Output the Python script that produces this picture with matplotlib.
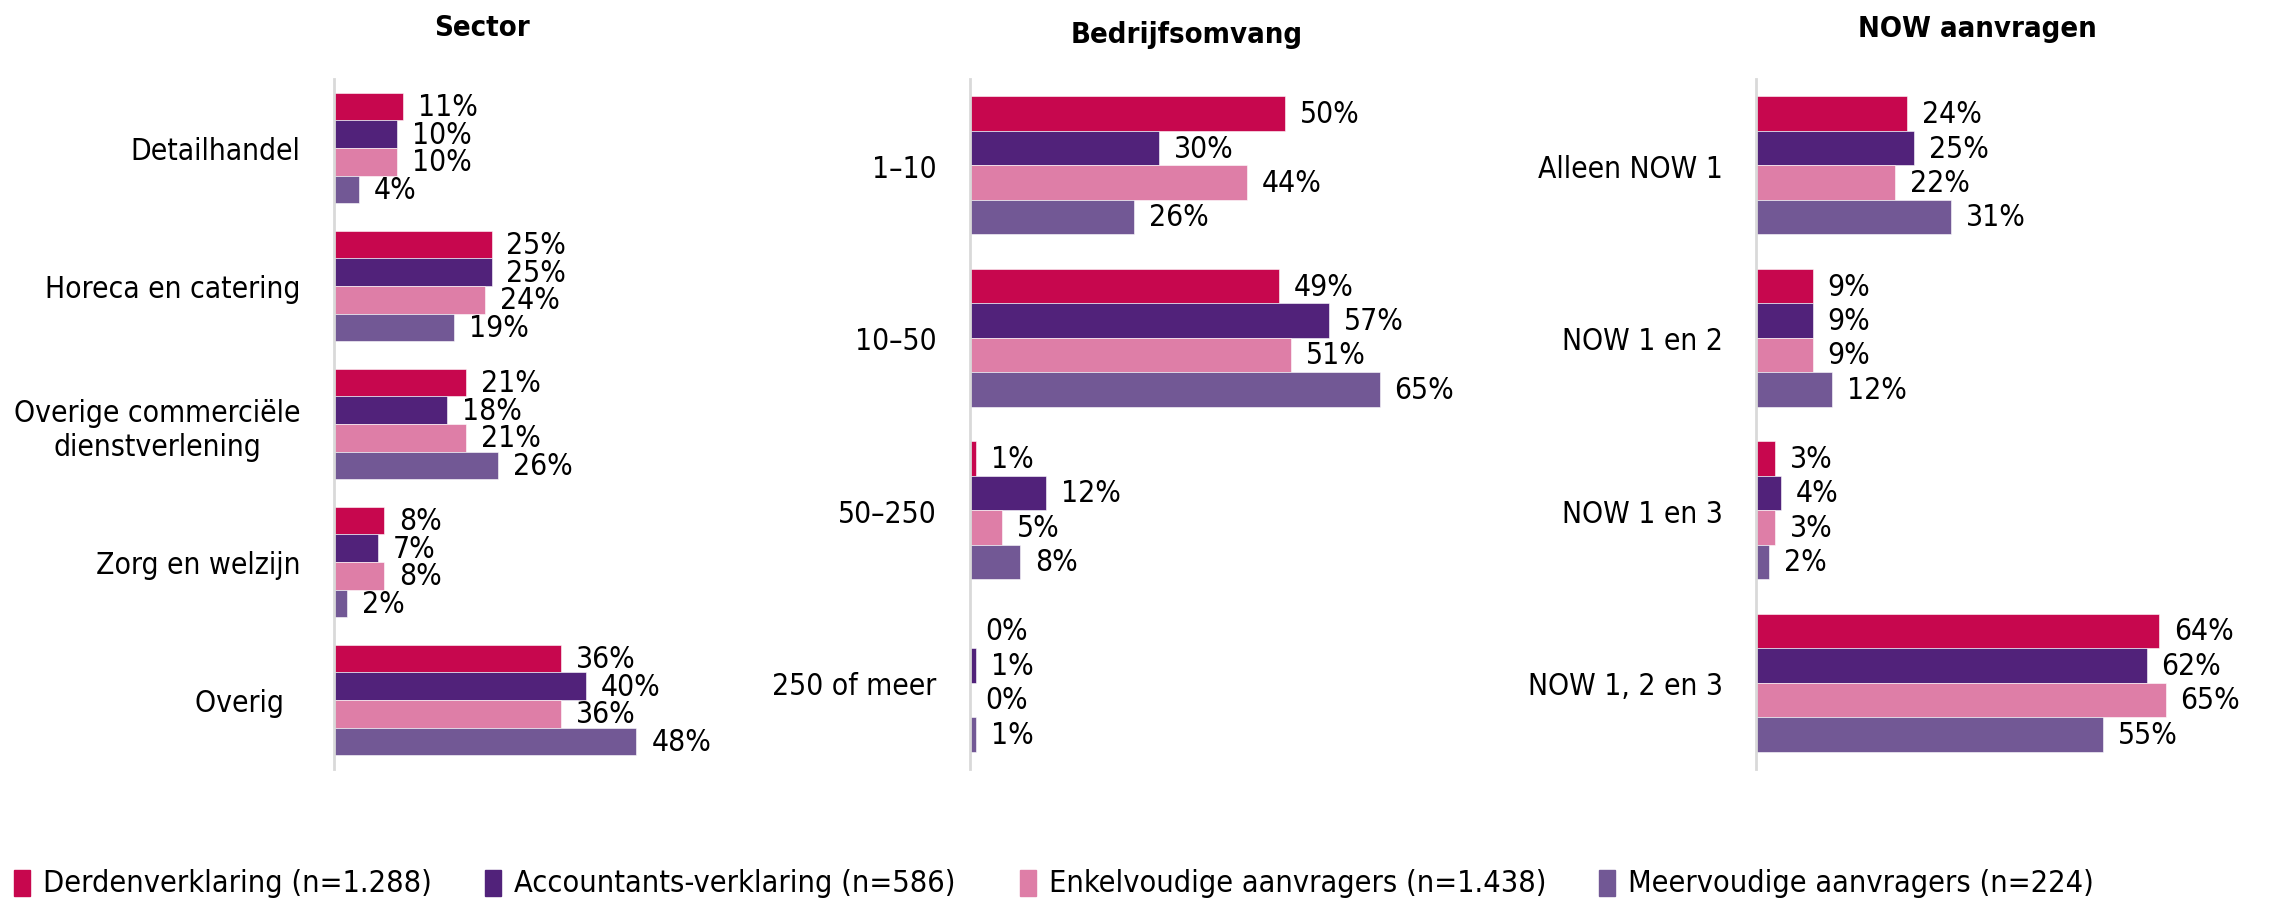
import matplotlib
matplotlib.use("Agg")
import matplotlib.pyplot as plt
from matplotlib.patches import Rectangle

plt.rcParams["font.family"] = ["DejaVu Sans"]
plt.rcParams["font.stretch"] = "condensed"

series = ["Derdenverklaring (n=1.288)", "Accountants-verklaring (n=586)",
          "Enkelvoudige aanvragers (n=1.438)", "Meervoudige aanvragers (n=224)"]
colors = ["#C7074E", "#51227A", "#DE7EA7", "#725895"]

sector_cats = ["Detailhandel", "Horeca en catering",
               "Overige commerciële\ndienstverlening", "Zorg en welzijn", "Overig  "]
sector_derden = [11, 25, 21, 8, 36]
sector_accountants = [10, 25, 18, 7, 40]
sector_enkel = [10, 24, 21, 8, 36]
sector_meer = [4, 19, 26, 2, 48]

omvang_cats = ["1–10", "10–50", "50–250", "250 of meer"]
omvang_derden = [50, 49, 1, 0]
omvang_accountants = [30, 57, 12, 1]
omvang_enkel = [44, 51, 5, 0]
omvang_meer = [26, 65, 8, 1]

now_cats = ["Alleen NOW 1", "NOW 1 en 2", "NOW 1 en 3", "NOW 1, 2 en 3"]
now_derden = [24, 9, 3, 64]
now_accountants = [25, 9, 4, 62]
now_enkel = [22, 9, 3, 65]
now_meer = [31, 12, 2, 55]

panels = [
    ("Sector", sector_cats, [sector_derden, sector_accountants, sector_enkel, sector_meer]),
    ("Bedrijfsomvang", omvang_cats, [omvang_derden, omvang_accountants, omvang_enkel, omvang_meer]),
    ("NOW aanvragen", now_cats, [now_derden, now_accountants, now_enkel, now_meer]),
]

W, H = 2269, 903
fig = plt.figure(figsize=(W / 100, H / 100), dpi=100)

lefts = [334, 970, 1756]
title_x = [482, 1187, 1977]
title_y = [36, 43, 37]
ax_w = 441 / W
ax_b = 1 - 770 / H
ax_h = (770 - 80) / H
FS = 21.5

for (title, cats, vals), left, tx, ty in zip(panels, lefts, title_x, title_y):
    ax = fig.add_axes([left / W, ax_b, ax_w, ax_h])
    n = len(cats)
    bh = 0.2
    for k, (v, c) in enumerate(zip(vals, colors)):
        ys = [i - 0.3 + k * bh for i in range(n)]
        ax.barh(ys, v, height=bh, color=c, edgecolor="white", linewidth=0.4)
        for y, val in zip(ys, v):
            ax.annotate(f"{val}%", (val, y), xytext=(15, 0), textcoords="offset pixels",
                        va="center", ha="left", fontsize=FS)
    ax.set_xlim(0, 70)
    ax.set_ylim(n - 0.5, -0.5)
    ax.set_yticks(range(n))
    ax.set_yticklabels(cats, fontsize=FS, ha="right", multialignment="center")
    ax.tick_params(axis="y", length=0, pad=24)
    ax.set_xticks([])
    for s in ["top", "right", "bottom"]:
        ax.spines[s].set_visible(False)
    ax.spines["left"].set_color("#D9D9D9")
    ax.spines["left"].set_linewidth(2)
    fig.text(tx / W, 1 - ty / H, title, ha="center", va="baseline",
             fontsize=21, fontweight="bold")

# legend
leg_x = [14, 485, 1020, 1599]
leg_y = 884
for x, lab, c in zip(leg_x, series, colors):
    fig.patches.append(Rectangle((x / W, 1 - (leg_y + 13) / H), 16 / W, 26 / H,
                                 transform=fig.transFigure, color=c))
    fig.text((x + 29) / W, 1 - leg_y / H, lab, ha="left", va="center", fontsize=22)

fig.savefig("out.png", dpi=100, facecolor="white")
